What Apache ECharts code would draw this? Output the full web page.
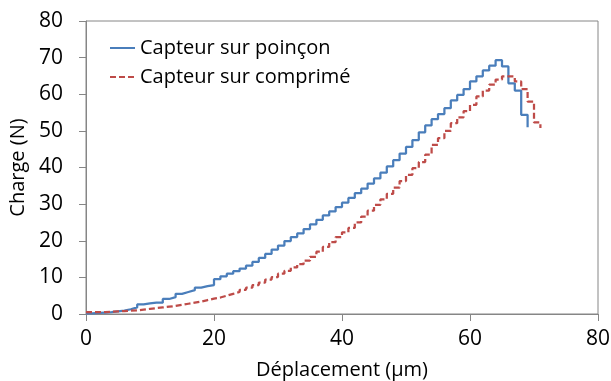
<!DOCTYPE html>
<html>
<head>
<meta charset="utf-8">
<script src="https://cdn.jsdelivr.net/npm/echarts@6/dist/echarts.min.js"></script>
<style>
  html, body { margin: 0; padding: 0; background: #fff; }
  #chart { width: 611px; height: 381px; }
</style>
</head>
<body>
<div id="chart"></div>
<script>
// Displacement steps (µm) and measured load (N) for each sensor
const xPoincon = [0,1,2,3,4,5,6,7,8,9,10,11,12,13,14,15,16,17,18,19,20,21,22,23,24,25,26,27,28,29,30,31,32,33,34,35,36,37,38,39,40,41,42,43,44,45,46,47,48,49,50,51,52,53,54,55,56,57,58,59,60,61,62,63,64,65,66,67,68,69];
const chargePoincon = [0.2,0.3,0.4,0.5,0.7,0.9,1.3,1.8,2.6,2.9,3.1,3.1,4.1,4.6,5.5,6.0,6.5,7.2,7.6,7.9,9.5,10.3,11.0,11.7,12.4,13.2,14.2,15.3,16.4,17.6,18.7,19.9,21.0,22.0,23.2,24.5,25.7,26.9,28.0,29.2,30.4,31.7,33.0,34.2,35.6,37.0,38.6,40.3,42.0,43.8,45.6,47.5,49.6,51.5,53.2,54.6,56.2,58.3,59.8,61.4,63.5,64.9,66.5,67.8,69.3,67.6,63.0,61.0,54.4,51.0];

const xComprime = [0,1,2,3,4,5,6,7,8,9,10,11,12,13,14,15,16,17,18,19,20,21,22,23,24,25,26,27,28,29,30,31,32,33,34,35,36,37,38,39,40,41,42,43,44,45,46,47,48,49,50,51,52,53,54,55,56,57,58,59,60,61,62,63,64,65,66,67,68,69,70,71];
const chargeComprime = [0.5,0.5,0.5,0.6,0.7,0.8,0.9,1.0,1.2,1.4,1.6,1.8,2.0,2.2,2.5,2.8,3.1,3.4,3.8,4.2,4.5,5.0,5.5,6.0,6.6,7.2,7.9,8.6,9.4,10.1,11.0,11.8,12.7,13.6,14.6,15.6,17.0,18.3,19.6,21.0,22.3,23.5,25.0,26.6,28.2,29.8,31.3,32.8,34.5,36.3,38.0,39.8,41.5,43.5,46.2,48.0,50.0,52.1,53.7,55.4,57.1,59.4,61.0,62.6,64.0,64.9,64.9,63.5,61.4,58.0,52.3,50.8];

const xTicks = [0, 20, 40, 60, 80];
const yTicks = [0, 10, 20, 30, 40, 50, 60, 70, 80];

const seriesNames = ['Capteur sur poinçon', 'Capteur sur comprimé'];

const pairs = (xs, ys) => xs.map((x, i) => [x, ys[i]]);

const FONT = 'Open Sans';
const axisGray = '#868686';

const chart = echarts.init(document.getElementById('chart'), null, { renderer: 'canvas' });
chart.setOption({
  animation: false,
  backgroundColor: '#ffffff',
  textStyle: { fontFamily: FONT },
  grid: {
    left: 86, right: 13, top: 21, bottom: 67,
    containLabel: false,
    outerBoundsMode: 'none',
    show: true, borderColor: axisGray, borderWidth: 1, backgroundColor: 'transparent'
  },
  legend: {
    orient: 'vertical',
    left: 104, top: 33,
    itemWidth: 25, itemHeight: 10, itemGap: 9,
    itemStyle: { opacity: 0 },
    textStyle: { fontFamily: FONT, fontSize: 20, color: '#000' },
    data: seriesNames
  },
  xAxis: {
    type: 'value',
    min: xTicks[0], max: xTicks[xTicks.length - 1], interval: 20,
    name: 'Déplacement (µm)', nameLocation: 'middle', nameGap: 46,
    nameTextStyle: { fontFamily: FONT, fontSize: 20, color: '#000' },
    axisLine: { lineStyle: { color: axisGray, width: 1 } },
    axisTick: { show: true, inside: false, length: 7, lineStyle: { color: axisGray } },
    axisLabel: { fontFamily: FONT, fontSize: 21, color: '#000', margin: 15 },
    splitLine: { show: false }
  },
  yAxis: {
    type: 'value',
    min: yTicks[0], max: yTicks[yTicks.length - 1], interval: 10,
    name: 'Charge (N)', nameLocation: 'middle', nameGap: 57,
    nameTextStyle: { fontFamily: FONT, fontSize: 20, color: '#000' },
    axisLine: { show: true, lineStyle: { color: axisGray, width: 1 } },
    axisTick: { show: true, inside: false, length: 7, lineStyle: { color: axisGray } },
    axisLabel: { fontFamily: FONT, fontSize: 21, color: '#000', margin: 23 },
    splitLine: { show: false }
  },
  series: [
    {
      name: seriesNames[0],
      type: 'line',
      step: 'end',
      symbol: 'none',
      data: pairs(xPoincon, chargePoincon),
      lineStyle: { color: '#4a7ebb', width: 2.25 },
      itemStyle: { color: '#4a7ebb' }
    },
    {
      name: seriesNames[1],
      type: 'line',
      step: 'end',
      symbol: 'none',
      data: pairs(xComprime, chargeComprime),
      lineStyle: { color: '#be4b48', width: 2.25, type: [6, 3] },
      itemStyle: { color: '#be4b48' }
    }
  ]
});
</script>
</body>
</html>
